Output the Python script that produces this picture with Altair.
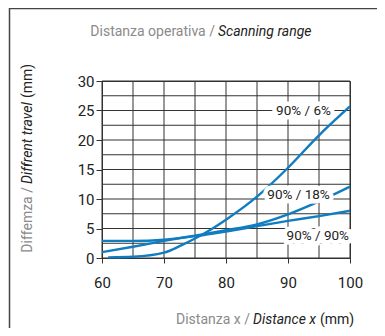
import altair as alt
import pandas as pd

# ---- data ----
x_common = [60, 65, 70, 75, 80, 85, 90, 95, 100]
s18_y = [1.0, 1.9, 2.9, 3.8, 4.7, 5.7, 7.4, 9.6, 12.1]
s90_y = [2.9, 2.9, 3.1, 3.7, 4.5, 5.4, 6.3, 7.1, 8.0]
s6_x = [61, 65, 70, 72.5, 75, 77.5, 80, 85, 90, 95, 100]
s6_y = [0.1, 0.2, 0.9, 2.0, 3.3, 4.8, 6.5, 10.4, 15.3, 20.8, 25.7]

label_text = ["90% / 6%", "90% / 18%", "90% / 90%"]
label_x = [92.5, 91.7, 94.8]
label_y = [25.0, 10.7, 3.7]

x_ticks = [60, 70, 80, 90, 100]
y_ticks = [0, 5, 10, 15, 20, 25, 30]
x_grid = [60, 65, 70, 75, 80, 85, 90, 95, 100]
y_grid = [0, 2.5, 5, 7.5, 10, 12.5, 15, 17.5, 20, 22.5, 25, 27.5, 30]

TITLE_GRAY = "Distanza operativa /"
TITLE_ITAL = "Scanning range"
XT_GRAY = "Distanza x /"
XT_ITAL = "Distance x"
XT_UNIT = "(mm)"
YT_GRAY = "Diffemza /"
YT_ITAL = "Diffrent travel"
YT_UNIT = "(mm)"

# ---- build tables ----
rows = []
for xv, yv in zip(s6_x, s6_y):
    rows.append({"x": xv, "y": yv, "s": "6"})
for xv, yv in zip(x_common, s18_y):
    rows.append({"x": xv, "y": yv, "s": "18"})
for xv, yv in zip(x_common, s90_y):
    rows.append({"x": xv, "y": yv, "s": "90"})
lines_df = pd.DataFrame(rows)
labels_df = pd.DataFrame({"lx": label_x, "ly": label_y, "t": label_text})
xgrid_df = pd.DataFrame({"x": x_grid})
ygrid_df = pd.DataFrame({"y": y_grid})

LABF = "Roboto"
SANS = "Roboto"
BLUE = "#0f7dc0"
GRAY_TXT = "#8a8a8a"
DARK = "#222222"
GRIDC = "#333333"

W, H = 248, 177

xscale = alt.Scale(domain=[60, 100], nice=False, zero=False)
yscale = alt.Scale(domain=[0, 30], nice=False)

xaxis = alt.Axis(values=x_ticks, grid=False, tickSize=5, labelPadding=12, title=None)
yaxis = alt.Axis(values=y_ticks, grid=False, tickSize=6, labelPadding=2, title=None)

vgrid = alt.Chart(xgrid_df).mark_rule(color=GRIDC, strokeWidth=1).encode(
    x=alt.X("x:Q", scale=xscale, axis=xaxis)
)
hgrid = alt.Chart(ygrid_df).mark_rule(color=GRIDC, strokeWidth=1).encode(
    y=alt.Y("y:Q", scale=yscale, axis=yaxis)
)

lines = alt.Chart(lines_df).mark_line(
    color=BLUE, strokeWidth=2.4, interpolate="monotone"
).encode(
    x=alt.X("x:Q", scale=xscale, axis=xaxis),
    y=alt.Y("y:Q", scale=yscale, axis=yaxis),
    detail="s:N",
)

# white label backgrounds, sized around each label position
boxes = alt.Chart(labels_df).transform_calculate(
    bx0="datum.lx - 4.7", bx1="datum.lx + 4.7", by0="datum.ly - 1.25", by1="datum.ly + 1.25"
).mark_rect(fill="#ffffff", fillOpacity=1, strokeWidth=0).encode(
    x=alt.X("bx0:Q", scale=xscale, axis=xaxis), x2="bx1:Q",
    y=alt.Y("by0:Q", scale=yscale, axis=yaxis), y2="by1:Q",
)

halo = alt.Chart(labels_df).mark_text(
    font=LABF, fontSize=13.5, stroke="#ffffff", strokeWidth=9, fill="#ffffff",
    align="center", baseline="middle"
).encode(x=alt.X("lx:Q", scale=xscale, axis=xaxis),
         y=alt.Y("ly:Q", scale=yscale, axis=yaxis), text="t:N")

labels = alt.Chart(labels_df).mark_text(
    font=LABF, fontSize=13.5, color=DARK, align="center", baseline="middle"
).encode(x=alt.X("lx:Q", scale=xscale, axis=xaxis),
         y=alt.Y("ly:Q", scale=yscale, axis=yaxis), text="t:N")


def txt(s, x, y, align, color, italic=False, angle=0):
    kw = dict(font=SANS, fontSize=14, color=color, align=align, baseline="middle")
    if italic:
        kw["fontStyle"] = "italic"
    if angle:
        kw["angle"] = angle
    return alt.Chart(pd.DataFrame({"t": [s]})).mark_text(**kw).encode(
        text="t:N", x=alt.value(x), y=alt.value(y)
    )


title_g = txt(TITLE_GRAY, 113, -49, "right", GRAY_TXT)
title_i = txt(TITLE_ITAL, 116, -49, "left", DARK, italic=True)
xt_g = txt(XT_GRAY, 148, 239, "right", GRAY_TXT)
xt_i = txt(XT_ITAL, 151, 239, "left", DARK, italic=True)
xt_u = txt(XT_UNIT, 218, 239, "left", DARK)
yt_g = txt(YT_GRAY, -74, 106, "right", GRAY_TXT, angle=270)
yt_i = txt(YT_ITAL, -74, 103, "left", DARK, italic=True, angle=270)
yt_u = txt(YT_UNIT, -74, 17, "left", DARK, angle=270)

frame_df = pd.DataFrame({"k": [0]})
frame_left = alt.Chart(frame_df).mark_rule(color="#444444", strokeWidth=1.5).encode(
    x=alt.value(-92.5), y=alt.value(-73), y2=alt.value(H + 80)
)
frame_top = alt.Chart(frame_df).mark_rule(color="#444444", strokeWidth=1.5).encode(
    y=alt.value(-72.5), x=alt.value(-93), x2=alt.value(W + 40)
)

chart = alt.layer(
    vgrid, hgrid, lines, boxes, halo, labels, title_g, title_i, xt_g, xt_i, xt_u,
    yt_g, yt_i, yt_u, frame_left, frame_top,
).properties(
    width=W, height=H,
    autosize=alt.AutoSizeParams(type="none"),
    padding={"left": 94, "top": 73, "right": 27, "bottom": 70},
).configure_view(stroke=GRIDC, strokeWidth=1).configure_axis(
    grid=False, tickColor=GRIDC, domainColor=GRIDC, labelFont=LABF, labelFontSize=15,
    labelColor=DARK, labelFlush=False,
)

chart.save("out.html", embed_options={"renderer": "svg", "actions": False})
